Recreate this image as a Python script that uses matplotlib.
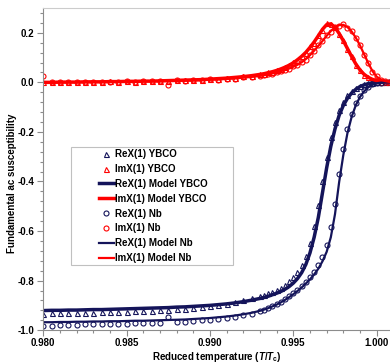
import matplotlib

matplotlib.use("Agg")
import matplotlib.pyplot as plt
from matplotlib.patches import Rectangle
from matplotlib.ticker import MultipleLocator, FormatStrFormatter

# Reduced temperature grid (T/Tc)
temperature = [
    0.9800, 0.9805, 0.9810, 0.9815, 0.9820, 0.9825, 0.9830, 0.9835, 0.9840,
    0.9845, 0.9850, 0.9855, 0.9860, 0.9865, 0.9870, 0.9875, 0.9880, 0.9885,
    0.9890, 0.9895, 0.9900, 0.9905, 0.9910, 0.9915, 0.9920, 0.9925, 0.9930,
    0.99325, 0.9935, 0.99375, 0.9940, 0.99425, 0.9945, 0.99475, 0.9950,
    0.99525, 0.9955, 0.99575, 0.9960, 0.99625, 0.9965, 0.99675, 0.9970,
    0.99725, 0.9975, 0.99775, 0.9980, 0.99825, 0.9985, 0.99875, 0.9990,
    0.99925, 0.9995, 0.99975, 1.0000, 1.00025, 1.0005, 1.00075,
]

# YBCO measured and model
re_ybco = [
    -0.933, -0.932, -0.931, -0.931, -0.930, -0.929, -0.929, -0.928, -0.927,
    -0.926, -0.925, -0.924, -0.922, -0.921, -0.919, -0.917, -0.915, -0.913,
    -0.910, -0.906, -0.902, -0.898, -0.893, -0.887, -0.880, -0.872, -0.863,
    -0.858, -0.852, -0.845, -0.837, -0.828, -0.817, -0.803, -0.786,
    -0.765, -0.737, -0.700, -0.648, -0.580, -0.495, -0.398, -0.303,
    -0.222, -0.160, -0.112, -0.078, -0.053, -0.035, -0.022, -0.013,
    -0.007, -0.003, -0.001, 0.000, 0.000, 0.001, 0.000,
]
im_ybco = [
    0.003, 0.001, 0.002, 0.000, 0.002, 0.003, 0.001, 0.003, 0.004,
    0.002, 0.005, 0.003, 0.006, 0.004, 0.007, 0.006, 0.009, 0.008,
    0.011, 0.010, 0.014, 0.014, 0.018, 0.019, 0.024, 0.026, 0.033,
    0.034, 0.041, 0.042, 0.050, 0.053, 0.063, 0.068, 0.081,
    0.089, 0.108, 0.119, 0.145, 0.160, 0.192, 0.212, 0.238,
    0.234, 0.224, 0.195, 0.170, 0.134, 0.106, 0.072, 0.051,
    0.031, 0.021, 0.011, 0.008, 0.003, 0.003, 0.001,
]
re_ybco_model = [
    -0.921, -0.920, -0.920, -0.919, -0.919, -0.918, -0.917, -0.917, -0.916,
    -0.915, -0.914, -0.913, -0.912, -0.911, -0.910, -0.909, -0.907, -0.906,
    -0.904, -0.902, -0.900, -0.897, -0.894, -0.890, -0.885, -0.879, -0.872,
    -0.868, -0.863, -0.857, -0.851, -0.844, -0.835, -0.824, -0.810,
    -0.792, -0.768, -0.735, -0.688, -0.625, -0.545, -0.445, -0.345,
    -0.258, -0.188, -0.133, -0.093, -0.064, -0.043, -0.028, -0.017,
    -0.010, -0.005, -0.002, -0.001, 0.000, 0.000, 0.000,
]
im_ybco_model = [
    0.000, 0.000, 0.001, 0.001, 0.001, 0.002, 0.002, 0.002, 0.003,
    0.003, 0.004, 0.004, 0.005, 0.005, 0.006, 0.007, 0.008, 0.009,
    0.010, 0.011, 0.013, 0.015, 0.017, 0.020, 0.023, 0.027, 0.032,
    0.035, 0.039, 0.043, 0.048, 0.054, 0.061, 0.069, 0.079,
    0.091, 0.105, 0.121, 0.141, 0.163, 0.188, 0.214, 0.233,
    0.236, 0.222, 0.197, 0.168, 0.136, 0.104, 0.074, 0.050,
    0.032, 0.020, 0.012, 0.007, 0.004, 0.002, 0.001,
]

# Nb measured and model
re_nb = [
    -0.985, -0.982, -0.980, -0.979, -0.978, -0.977, -0.977, -0.976, -0.975,
    -0.975, -0.974, -0.973, -0.972, -0.971, -0.970, -0.945, -0.968, -0.966,
    -0.964, -0.961, -0.958, -0.955, -0.951, -0.946, -0.940, -0.933, -0.924,
    -0.918, -0.911, -0.903, -0.895, -0.885, -0.873, -0.861, -0.849,
    -0.836, -0.821, -0.804, -0.786, -0.765, -0.738, -0.703, -0.655,
    -0.585, -0.490, -0.370, -0.270, -0.188, -0.128, -0.085, -0.054,
    -0.032, -0.017, -0.008, -0.003, -0.001, 0.000, 0.000,
]
im_nb = [
    0.025, 0.002, 0.000, 0.002, 0.001, 0.002, 0.003, 0.001, 0.003,
    0.002, 0.004, 0.003, 0.005, 0.004, 0.006, -0.010, 0.008, 0.006,
    0.009, 0.008, 0.012, 0.011, 0.015, 0.015, 0.020, 0.021, 0.027,
    0.028, 0.033, 0.035, 0.041, 0.044, 0.051, 0.055, 0.064,
    0.070, 0.083, 0.092, 0.112, 0.126, 0.150, 0.165, 0.191,
    0.205, 0.225, 0.229, 0.234, 0.221, 0.207, 0.178, 0.151,
    0.111, 0.079, 0.043, 0.025, 0.010, 0.006, 0.002,
]
re_nb_model = [
    -0.968, -0.968, -0.967, -0.967, -0.966, -0.966, -0.965, -0.965, -0.964,
    -0.964, -0.963, -0.962, -0.962, -0.961, -0.960, -0.959, -0.958, -0.957,
    -0.955, -0.953, -0.951, -0.948, -0.945, -0.941, -0.936, -0.930, -0.922,
    -0.917, -0.911, -0.904, -0.897, -0.888, -0.878, -0.867, -0.855,
    -0.842, -0.828, -0.812, -0.795, -0.775, -0.752, -0.722, -0.684,
    -0.625, -0.532, -0.402, -0.293, -0.204, -0.139, -0.092, -0.059,
    -0.036, -0.020, -0.010, -0.004, -0.001, 0.000, 0.000,
]
im_nb_model = [
    0.000, 0.000, 0.000, 0.001, 0.001, 0.001, 0.002, 0.002, 0.002,
    0.003, 0.003, 0.004, 0.004, 0.005, 0.005, 0.006, 0.007, 0.007,
    0.008, 0.009, 0.011, 0.012, 0.014, 0.016, 0.019, 0.022, 0.026,
    0.029, 0.032, 0.036, 0.040, 0.045, 0.050, 0.056, 0.063,
    0.071, 0.081, 0.094, 0.110, 0.128, 0.147, 0.167, 0.188,
    0.207, 0.222, 0.231, 0.232, 0.223, 0.205, 0.180, 0.149,
    0.113, 0.077, 0.045, 0.023, 0.011, 0.005, 0.002,
]

NAVY = "#14145a"
RED = "#ff0000"
GREY = "#8c8c8c"


def setup_fonts():
    plt.rcParams["font.family"] = ["Liberation Sans", "DejaVu Sans"]
    plt.rcParams["font.weight"] = "bold"
    plt.rcParams["mathtext.fontset"] = "custom"
    plt.rcParams["mathtext.rm"] = "Liberation Sans:bold"
    plt.rcParams["mathtext.it"] = "Liberation Sans:italic:bold"
    plt.rcParams["mathtext.bf"] = "Liberation Sans:bold"


def main():
    setup_fonts()
    fig = plt.figure(figsize=(3.90, 3.64), dpi=100)
    ax = fig.add_axes([0.111, 0.093, 0.889, 0.885])

    marker_kw = dict(linestyle="none", markerfacecolor="none", markersize=3.6,
                     markeredgewidth=0.8)

    h1, = ax.plot(temperature, re_ybco, marker="^", color=NAVY, **marker_kw)
    h2, = ax.plot(temperature, im_ybco, marker="^", color=RED, **marker_kw)
    h5, = ax.plot(temperature, re_nb, marker="o", color=NAVY, **marker_kw)
    h6, = ax.plot(temperature, im_nb, marker="o", color=RED, **marker_kw)

    h3, = ax.plot(temperature, re_ybco_model, color=NAVY, lw=2.5)
    h4, = ax.plot(temperature, im_ybco_model, color=RED, lw=2.5)
    h7, = ax.plot(temperature, re_nb_model, color=NAVY, lw=1.6)
    h8, = ax.plot(temperature, im_nb_model, color=RED, lw=1.6)

    ax.set_xlim(0.980, 1.0008)
    ax.set_ylim(-1.0, 0.30)

    ax.xaxis.set_major_locator(MultipleLocator(0.005))
    ax.xaxis.set_minor_locator(MultipleLocator(0.001))
    ax.yaxis.set_major_locator(MultipleLocator(0.2))
    ax.yaxis.set_minor_locator(MultipleLocator(0.04))
    ax.xaxis.set_major_formatter(FormatStrFormatter("%.3f"))
    ax.yaxis.set_major_formatter(FormatStrFormatter("%.1f"))

    ax.tick_params(which="both", direction="out", color=GREY, width=0.8,
                   labelsize=7, pad=2.5)
    ax.tick_params(which="major", length=4)
    ax.tick_params(which="minor", length=2.5)
    ax.tick_params(axis="x", pad=2)

    for side in ["left", "bottom"]:
        ax.spines[side].set_color(GREY)
        ax.spines[side].set_linewidth(0.8)
    ax.spines["top"].set_color("#cccccc")
    ax.spines["top"].set_linewidth(0.8)
    ax.spines["right"].set_visible(False)

    ax.set_xlabel(r"Reduced temperature ($T/T_{\rm c}$)", fontsize=7,
                  fontweight="bold", labelpad=1)
    ax.set_ylabel("Fundamental ac susceptibility", fontsize=7,
                  fontweight="bold")
    ax.yaxis.set_label_coords(-0.075, 0.455)

    # legend box drawn by hand, the entries sit centred inside it
    box = Rectangle((0.079, 0.202), 0.467, 0.367, transform=ax.transAxes,
                    facecolor="white", edgecolor="#c0c0c0", lw=0.8, zorder=5)
    ax.add_patch(box)

    handles = [h1, h2, h3, h4, h5, h6, h7, h8]
    labels = [
        "ReX(1) YBCO", "ImX(1) YBCO", "ReX(1) Model YBCO", "ImX(1) Model YBCO",
        "ReX(1) Nb", "ImX(1) Nb", "ReX(1) Model Nb", "ImX(1) Model Nb",
    ]
    leg = ax.legend(handles, labels, loc="upper left",
                    bbox_to_anchor=(0.160, 0.562), frameon=False,
                    borderpad=0, borderaxespad=0,
                    handlelength=1.55, handletextpad=0.15, labelspacing=0.5,
                    prop={"weight": "bold", "size": 7})
    leg.set_zorder(6)

    fig.savefig("out.png", dpi=100)


if __name__ == "__main__":
    main()
